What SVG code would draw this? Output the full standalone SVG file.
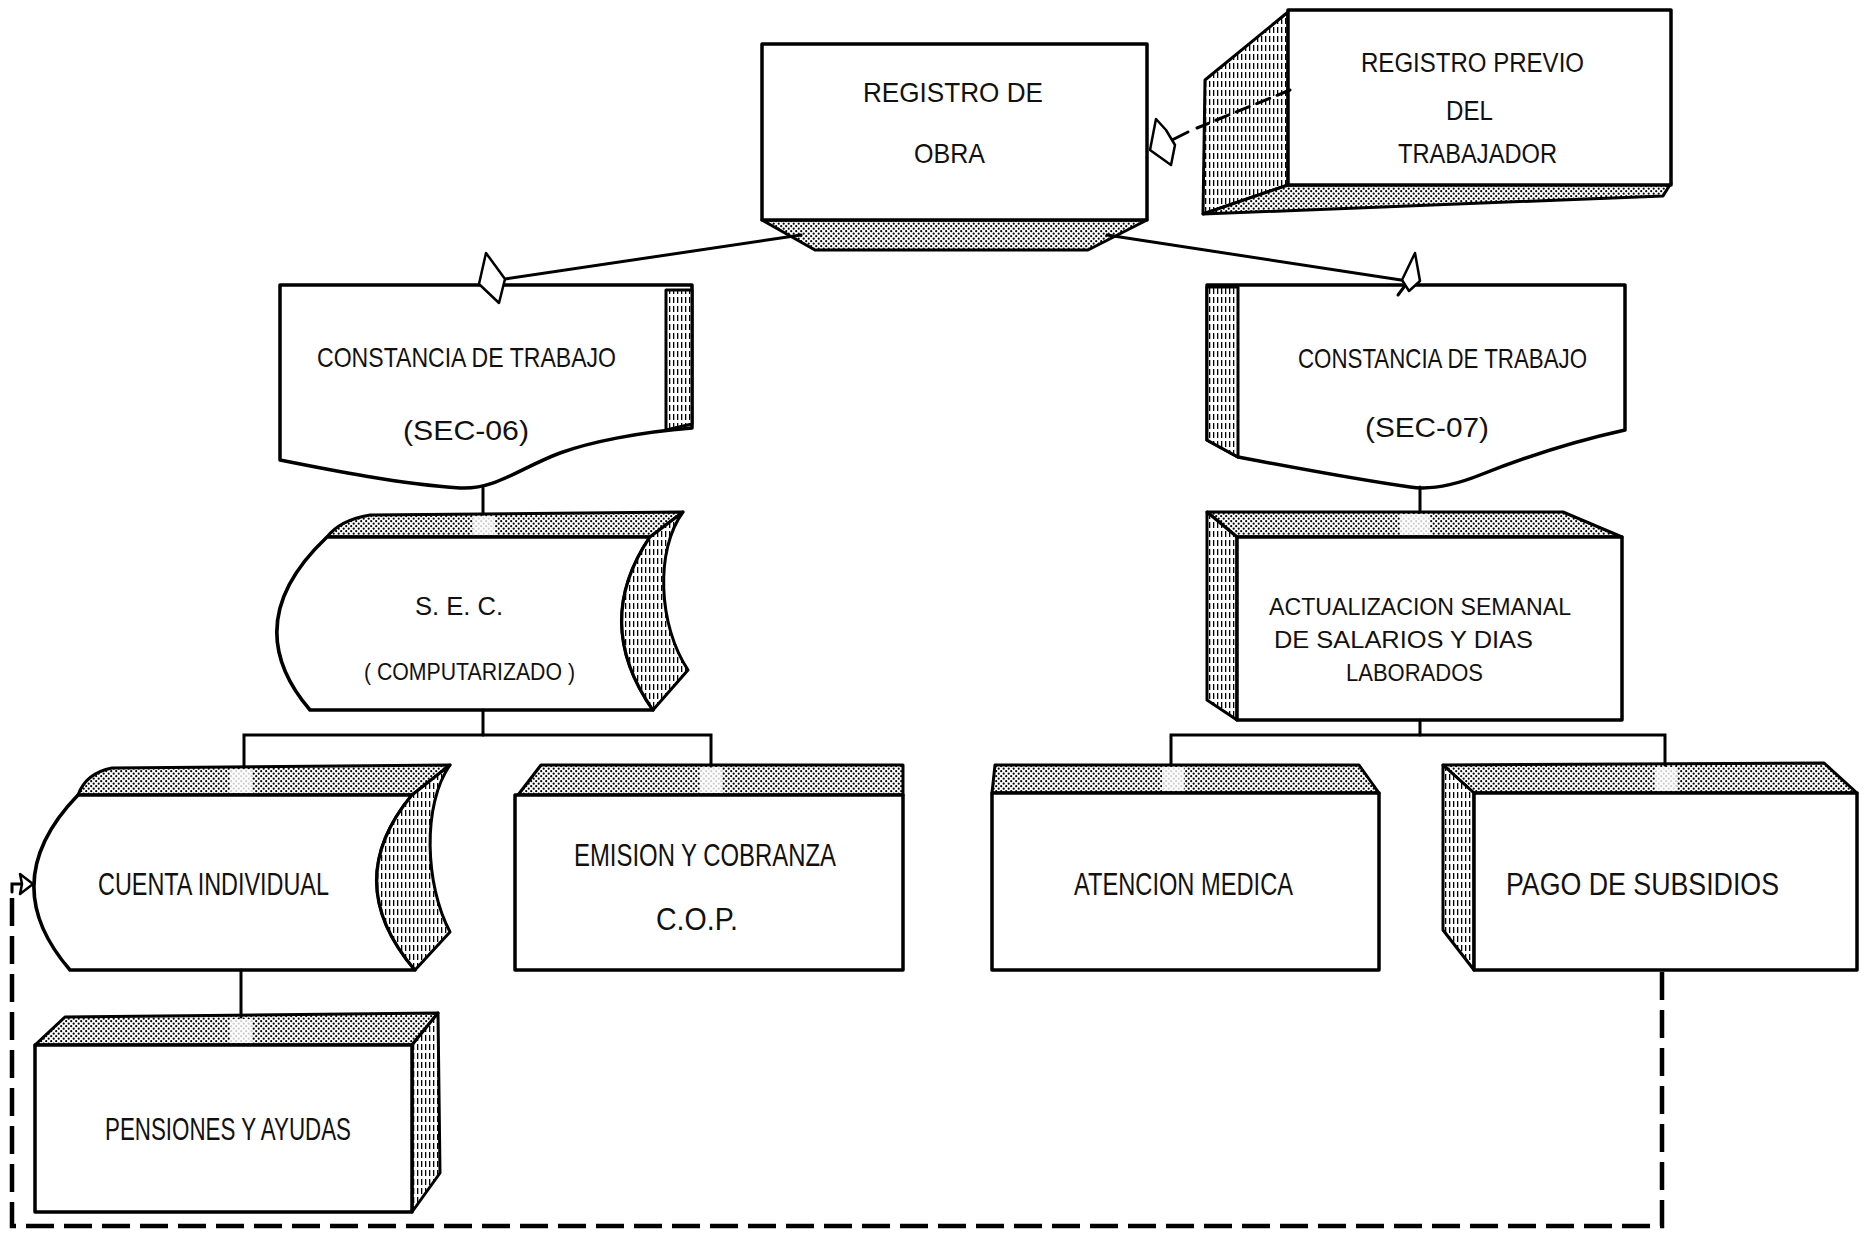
<svg xmlns="http://www.w3.org/2000/svg" width="1867" height="1234" viewBox="0 0 1867 1234">
<defs>
<pattern id="stip" width="5" height="5" patternUnits="userSpaceOnUse">
<rect width="5" height="5" fill="#fff"/>
<circle cx="1.2" cy="1.2" r="1.1" fill="#000"/>
<circle cx="3.7" cy="3.7" r="1.1" fill="#000"/>
</pattern>
<pattern id="hatch" width="4" height="9" patternUnits="userSpaceOnUse">
<rect width="4" height="9" fill="#fff"/>
<rect x="1" y="0" width="1.3" height="6" fill="#000"/>
</pattern>
<style>
.box{fill:#fff;stroke:#000;stroke-width:3.5;stroke-linejoin:round}
.stip{fill:url(#stip);stroke:#000;stroke-width:3;stroke-linejoin:round}
.hatch{fill:url(#hatch);stroke:#000;stroke-width:3;stroke-linejoin:round}
.gap{fill:#fff;opacity:0.8}
.ln{fill:none;stroke:#000;stroke-width:3;stroke-linecap:round}
.dash{fill:none;stroke:#000;stroke-width:4.5;stroke-dasharray:28 10}
.arr{fill:#fff;stroke:#000;stroke-width:2.5;stroke-linejoin:round}
text{font-family:"Liberation Sans",Arial,sans-serif;fill:#111}
</style>
</defs>
<rect width="1867" height="1234" fill="#fff"/>

<g id="registro-obra">
<polygon class="stip" points="762,220 1147,220 1088,250 815,250"/>
<rect class="box" x="762" y="44" width="385" height="176"/>
<text x="863" y="102" font-size="28" textLength="180" lengthAdjust="spacingAndGlyphs">REGISTRO DE</text>
<text x="914" y="163" font-size="28" textLength="71" lengthAdjust="spacingAndGlyphs">OBRA</text>
</g>

<g id="registro-previo">
<polygon class="hatch" points="1288,12 1205,80 1203,214 1288,185"/>
<polygon class="stip" points="1288,185 1671,183 1663,196 1203,214"/>
<rect class="box" x="1288" y="10" width="383" height="175"/>
<text x="1361" y="72" font-size="27" textLength="223" lengthAdjust="spacingAndGlyphs">REGISTRO PREVIO</text>
<text x="1446" y="120" font-size="27" textLength="47" lengthAdjust="spacingAndGlyphs">DEL</text>
<text x="1398" y="163" font-size="27" textLength="159" lengthAdjust="spacingAndGlyphs">TRABAJADOR</text>
</g>

<g id="constancia-sec06">
<path class="box" d="M280,285 H692 V428 C640,432 590,442 560,453 C520,468 495,490 460,488 C400,484 330,470 280,460 Z"/>
<polygon class="hatch" points="666,290 692,290 692,424 666,430"/>
<text x="317" y="367" font-size="28" textLength="299" lengthAdjust="spacingAndGlyphs">CONSTANCIA DE TRABAJO</text>
<text x="403" y="440" font-size="28" textLength="126" lengthAdjust="spacingAndGlyphs">(SEC-06)</text>
</g>

<g id="sec">
<path class="stip" d="M327,537 Q340,520 370,515 L683,512 L650,537 Z"/>
<rect class="gap" x="473" y="516" width="22" height="19"/>
<path class="box" d="M327,537 H650 Q592,623 653,710 H310 Q236,623 327,537 Z"/>
<path class="hatch" d="M650,537 L683,512 C655,550 658,625 688,670 L653,710 Q592,623 650,537 Z"/>
<text x="415" y="615" font-size="26" textLength="88" lengthAdjust="spacingAndGlyphs">S. E. C.</text>
<text x="364" y="680" font-size="24" textLength="211" lengthAdjust="spacingAndGlyphs">( COMPUTARIZADO )</text>
</g>

<g id="constancia-sec07">
<path class="box" d="M1207,285 H1625 V430 C1580,440 1530,455 1480,475 C1455,485 1430,490 1410,487 C1360,480 1280,465 1238,457 L1207,440 Z"/>
<polygon class="hatch" points="1207,287 1238,287 1238,457 1207,440"/>
<text x="1298" y="368" font-size="28" textLength="289" lengthAdjust="spacingAndGlyphs">CONSTANCIA DE TRABAJO</text>
<text x="1365" y="437" font-size="28" textLength="124" lengthAdjust="spacingAndGlyphs">(SEC-07)</text>
</g>

<g id="actualizacion">
<polygon class="stip" points="1207,512 1563,512 1622,537 1237,537"/>
<rect class="gap" x="1400" y="514" width="30" height="21"/>
<polygon class="hatch" points="1207,512 1237,537 1237,720 1207,700"/>
<rect class="box" x="1237" y="537" width="385" height="183"/>
<text x="1269" y="615" font-size="24" textLength="302" lengthAdjust="spacingAndGlyphs">ACTUALIZACION SEMANAL</text>
<text x="1274" y="648" font-size="24" textLength="259" lengthAdjust="spacingAndGlyphs">DE SALARIOS Y DIAS</text>
<text x="1346" y="681" font-size="24" textLength="137" lengthAdjust="spacingAndGlyphs">LABORADOS</text>
</g>

<g id="cuenta-individual">
<path class="stip" d="M78,795 Q86,773 112,768 L450,765 L412,795 Z"/>
<rect class="gap" x="230" y="769" width="22" height="24"/>
<path class="box" d="M78,795 H412 Q340,882 415,970 H70 Q-6,882 78,795 Z"/>
<path class="hatch" d="M412,795 L450,765 C422,805 425,885 450,932 L415,970 Q340,882 412,795 Z"/>
<text x="98" y="895" font-size="31" textLength="231" lengthAdjust="spacingAndGlyphs">CUENTA INDIVIDUAL</text>
</g>

<g id="emision-cobranza">
<polygon class="stip" points="541,765 903,765 903,795 518,795"/>
<rect class="gap" x="700" y="767" width="22" height="26"/>
<rect class="box" x="515" y="795" width="388" height="175"/>
<text x="574" y="866" font-size="31" textLength="262" lengthAdjust="spacingAndGlyphs">EMISION Y COBRANZA</text>
<text x="656" y="930" font-size="31" textLength="82" lengthAdjust="spacingAndGlyphs">C.O.P.</text>
</g>

<g id="pensiones-ayudas">
<polygon class="stip" points="65,1017 438,1013 412,1045 35,1045"/>
<rect class="gap" x="230" y="1019" width="22" height="24"/>
<polygon class="hatch" points="412,1045 438,1013 440,1173 412,1212"/>
<rect class="box" x="35" y="1045" width="377" height="167"/>
<text x="105" y="1140" font-size="31" textLength="246" lengthAdjust="spacingAndGlyphs">PENSIONES Y AYUDAS</text>
</g>

<g id="atencion-medica">
<polygon class="stip" points="995,765 1359,765 1379,793 992,793"/>
<rect class="gap" x="1162" y="767" width="22" height="24"/>
<rect class="box" x="992" y="793" width="387" height="177"/>
<text x="1074" y="895" font-size="31" textLength="219" lengthAdjust="spacingAndGlyphs">ATENCION MEDICA</text>
</g>

<g id="pago-subsidios">
<polygon class="stip" points="1443,765 1824,763 1857,793 1474,793"/>
<rect class="gap" x="1655" y="767" width="22" height="24"/>
<polygon class="hatch" points="1443,765 1474,793 1474,970 1443,930"/>
<rect class="box" x="1474" y="793" width="383" height="177"/>
<text x="1506" y="895" font-size="31" textLength="273" lengthAdjust="spacingAndGlyphs">PAGO DE SUBSIDIOS</text>
</g>

<g id="connectors">
<line class="ln" x1="801" y1="235" x2="505" y2="279"/>
<polygon class="arr" points="486,253 479,284 499,303 505,279"/>
<line class="ln" x1="1107" y1="235" x2="1401" y2="280"/>
<polygon class="arr" points="1415,253 1402,280 1409,291 1420,281"/>
<line class="ln" x1="1404" y1="287" x2="1398" y2="295"/>
<line class="ln" x1="1290" y1="90" x2="1197" y2="128" stroke-dasharray="14 8"/>
<line class="ln" x1="1188" y1="132" x2="1172" y2="140"/>
<polygon class="arr" points="1156,119 1150,150 1171,165 1175,145 1166,130"/>
<line class="ln" x1="483" y1="488" x2="483" y2="514"/>
<polyline class="ln" points="244,766 244,735 711,735 711,766"/>
<line class="ln" x1="483" y1="710" x2="483" y2="735"/>
<line class="ln" x1="241" y1="970" x2="241" y2="1017"/>
<line class="ln" x1="1420" y1="487" x2="1420" y2="512"/>
<polyline class="ln" points="1171,765 1171,735 1665,735 1665,765"/>
<line class="ln" x1="1420" y1="720" x2="1420" y2="735"/>
<polyline class="dash" points="1662,972 1662,1226 12,1226 12,890"/>
<polyline class="ln" points="12,892 12,884 24,884"/>
<polygon class="arr" points="33,884 20,874 22,884 20,894"/>
</g>
</svg>
